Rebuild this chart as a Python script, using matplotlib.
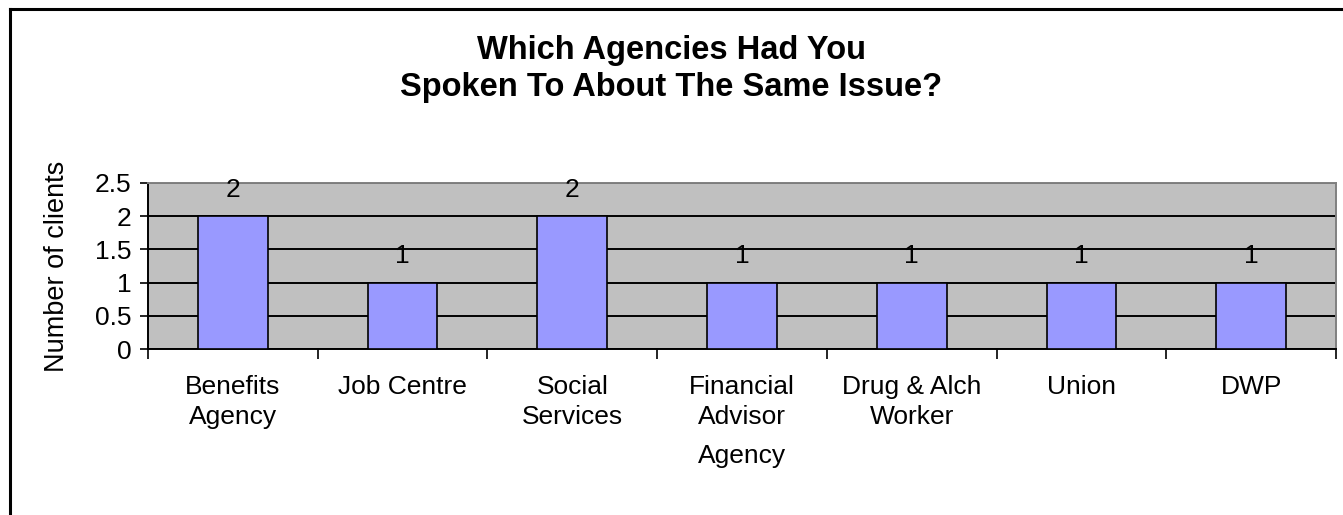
import matplotlib
matplotlib.use("Agg")
import matplotlib.pyplot as plt
from matplotlib.lines import Line2D

agencies = ["Benefits\nAgency", "Job Centre", "Social\nServices", "Financial\nAdvisor",
            "Drug & Alch\nWorker", "Union", "DWP"]
clients = [2, 1, 2, 1, 1, 1, 1]
yticks = [0, 0.5, 1, 1.5, 2, 2.5]

plt.rcParams['font.family'] = ['Liberation Sans', 'DejaVu Sans']
fs = 19

fig = plt.figure(figsize=(13.43, 5.15), dpi=100)
ax = fig.add_axes([0.1102, 0.3223, 0.8846, 0.3224])
ax.set_facecolor('#C0C0C0')

x = list(range(len(agencies)))
ax.bar(x, clients, width=0.41, color='#9999FF', edgecolor='black', linewidth=1.2, zorder=3)
for xi, v in zip(x, clients):
    ax.annotate(str(v), (xi, v), xytext=(0, 19), textcoords='offset points',
                ha='center', va='center', fontsize=fs, zorder=4)

ax.set_xlim(-0.5, len(agencies) - 0.5)
ax.set_ylim(0, 2.5)
ax.set_yticks(yticks)
ax.set_yticklabels([f'{t:g}' for t in yticks], fontsize=fs)
ax.yaxis.grid(True, color='black', linewidth=1.4, zorder=1)
ax.set_axisbelow(True)

# category labels sit between the boundary ticks
ax.set_xticks([i - 0.5 for i in range(len(agencies) + 1)])
ax.set_xticklabels([])
ax.set_xticks(x, minor=True)
ax.set_xticklabels(agencies, minor=True, fontsize=fs, linespacing=1.3, va='top')
ax.tick_params(axis='x', which='minor', length=0, pad=19)
ax.tick_params(axis='x', which='major', length=7, width=1.2, direction='out')
ax.tick_params(axis='y', length=6, width=1.2, direction='out', pad=6)

ax.set_xlabel('Agency', fontsize=fs, labelpad=11)
ax.set_ylabel('Number of clients', fontsize=19.5, labelpad=18)

for s in ['left', 'bottom']:
    ax.spines[s].set_color('black')
    ax.spines[s].set_linewidth(1.4)
for s in ['top', 'right']:
    ax.spines[s].set_color('#808080')
    ax.spines[s].set_linewidth(1.4)

fig.text(0.5, 0.901, 'Which Agencies Had You', ha='center', va='center',
         fontsize=23.5, fontweight='bold')
fig.text(0.5, 0.831, 'Spoken To About The Same Issue?', ha='center', va='center',
         fontsize=23.5, fontweight='bold')

# chart frame, running off the right and bottom
fig.add_artist(Line2D([0.0075, 0.0075], [0, 0.983], transform=fig.transFigure,
                      color='black', linewidth=2.2))
fig.add_artist(Line2D([0.0075, 1.0], [0.983, 0.983], transform=fig.transFigure,
                      color='black', linewidth=2.2))

fig.savefig('out.png', dpi=100)
